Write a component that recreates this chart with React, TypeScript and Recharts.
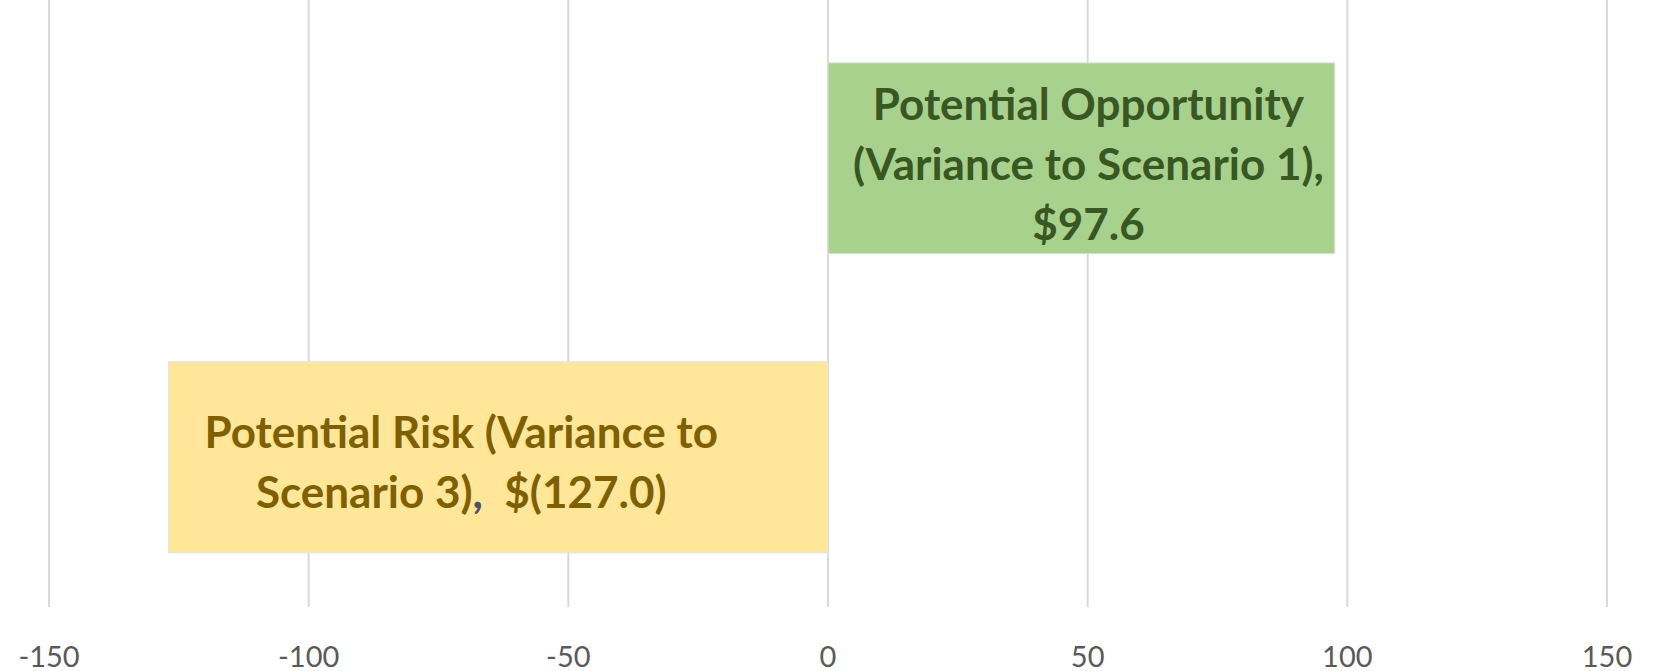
import { BarChart, Bar, XAxis, YAxis, CartesianGrid, Cell, LabelList } from "recharts";

document.body.style.margin = "0";

const categories = ["Potential Opportunity", "Potential Risk"];
const values = [97.6, -127.0];
const labelLines = [
  ["Potential Opportunity", "(Variance to Scenario 1),", "$97.6"],
  ["Potential Risk (Variance to", "Scenario 3),  $(127.0)"],
];
const xTicks = [-150, -100, -50, 0, 50, 100, 150];

const barColors = ["#a9d18e", "#ffe699"];
const textColors = ["#385723", "#7f6000"];
// label placement relative to bar centre
const labelShift = [
  { dx: 7, first: -38 },
  { dx: -37, first: -9 },
];

const data = categories.map((name, i) => ({ name, value: values[i] }));

const renderLabel = (props: any) => {
  const { x, y, width, height, index } = props;
  const cx = x + width / 2 + labelShift[index].dx;
  const cy = y + height / 2;
  const lines = labelLines[index];
  return (
    <text
      x={cx}
      y={cy}
      textAnchor="middle"
      fill={textColors[index]}
      fontFamily="Lato"
      fontWeight={700}
      fontSize={44}
      style={{ whiteSpace: "pre" }}
    >
      {lines.map((line, i) => {
        const ly = cy + labelShift[index].first + i * 60;
        const cut = index === 1 ? line.indexOf("),") : -1;
        if (cut < 0) {
          return (
            <tspan key={i} x={cx} y={ly}>
              {line}
            </tspan>
          );
        }
        return (
          <tspan key={i} x={cx} y={ly}>
            {line.slice(0, cut + 1)}
            <tspan fill="#44546a">,</tspan>
            {line.slice(cut + 2)}
          </tspan>
        );
      })}
    </text>
  );
};

export default function App() {
  return (
    <BarChart
      layout="vertical"
      width={1660}
      height={671}
      data={data}
      margin={{ top: 9, right: 53, bottom: 0, left: 49 }}
      barCategoryGap="18%"
    >
      <CartesianGrid horizontal={false} stroke="#d9d9d9" strokeWidth={2} y={0} height={607} />
      <XAxis
        type="number"
        domain={[-150, 150]}
        ticks={xTicks}
        axisLine={false}
        tickLine={false}
        height={64}
        tickSize={6}
        tickMargin={33}
        tick={{ fill: "#595959", fontSize: 29, fontFamily: "Lato" }}
      />
      <YAxis type="category" dataKey="name" hide />
      <Bar dataKey="value" isAnimationActive={false} stroke="#e3e3e3" strokeWidth={1}>
        {data.map((d, i) => (
          <Cell key={d.name} fill={barColors[i]} />
        ))}
        <LabelList dataKey="value" content={renderLabel} />
      </Bar>
    </BarChart>
  );
}
